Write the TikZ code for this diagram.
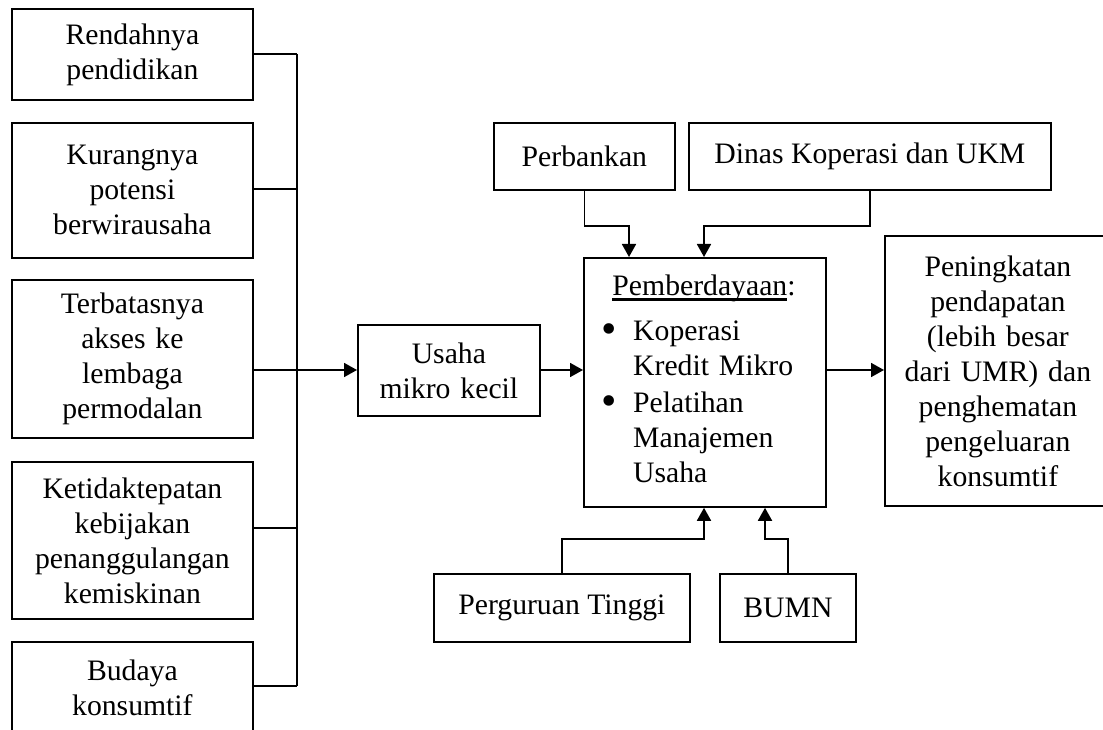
\documentclass[tikz,border=0pt]{standalone}
\usepackage{fontspec}
\setmainfont{Liberation Serif}
\usetikzlibrary{arrows.meta}
\newcommand\myul[1]{\setbox0\hbox{#1}\rlap{\rule[-5.6pt]{\wd0}{2.2pt}}\box0}
\begin{document}
\begin{tikzpicture}[x=1pt,y=-1pt,
  every node/.style={font=\fontsize{29.7}{35}\selectfont, inner sep=0pt},
  box/.style={draw, line width=1.8pt, anchor=north west, align=center},
  conn/.style={line width=1.8pt},
  arr/.style={line width=1.8pt, -{Triangle[length=13pt,width=14pt]}},
  txt/.style={align=left, anchor=base west, text width=#1},
  bul/.style={font=\fontsize{44}{44}\selectfont, anchor=base},
]
\useasboundingbox (0,0) rectangle (1103,730);
\clip (0,0) rectangle (1103,730);
% left column
\node[box, minimum width=241pt, minimum height=91pt, text width=235pt] (b1) at (11,8) {Rendahnya\\pendidikan};
\node[box, minimum width=241pt, minimum height=135pt, text width=235pt] (b2) at (11,122) {Kurangnya\\potensi\\berwirausaha};
\node[box, minimum width=241pt, minimum height=158pt, text width=235pt] (b3) at (11,279) {Terbatasnya\\akses ke\\lembaga\\permodalan};
\node[box, minimum width=241pt, minimum height=157pt, text width=235pt] (b4) at (11,461) {Ketidaktepatan\\kebijakan\\penanggulangan\\kemiskinan};
\node[box, minimum width=241pt, minimum height=92pt, text width=235pt] (b5) at (11,641) {Budaya\\konsumtif};
% middle
\node[box, minimum width=182pt, minimum height=91pt, text width=176pt] (usaha) at (357,324) {Usaha\\mikro kecil};
\node[box, minimum width=242pt, minimum height=249pt] (pemb) at (583,257) {};
\node[anchor=base] (ptitle) at (704,295) {\myul{Pemberdayaan}:};
\node[bul] (bul1) at (609,343) {\textbullet};
\node[txt=190pt] (it1) at (633,340) {Koperasi\\Kredit Mikro};
\node[bul] (bul2) at (609,415) {\textbullet};
\node[txt=190pt] (it2) at (633,412) {Pelatihan\\Manajemen\\Usaha};
% top
\node[box, minimum width=181pt, minimum height=67pt] (perb) at (493,122) {Perbankan};
\node[box, minimum width=362pt, minimum height=67pt] (dinas) at (688,122) {Dinas Koperasi dan UKM};
% bottom
\node[box, minimum width=256pt, minimum height=68pt] (pt) at (433,573) {Perguruan Tinggi};
\node[box, minimum width=136pt, minimum height=68pt] (bumn) at (719,573) {BUMN};
% output
\node[box, minimum width=226pt, minimum height=270pt, text width=220pt] (out) at (884,235) {Peningkatan\\pendapatan\\(lebih besar\\dari UMR) dan\\penghematan\\pengeluaran\\konsumtif};
% connectors left
\coordinate (jt) at (297,54);
\coordinate (j2) at (297,189);
\coordinate (j3) at (297,370);
\coordinate (j4) at (297,528);
\coordinate (jb) at (297,686);
\draw[conn] (jt) -- (jb);
\draw[conn] (b1.east |- jt) -- (jt);
\draw[conn] (b2.east |- j2) -- (j2);
\draw[conn] (b3.east |- j3) -- (j3);
\draw[conn] (b4.east |- j4) -- (j4);
\draw[conn] (b5.east |- jb) -- (jb);
\draw[arr] (j3) -- (usaha.west |- j3);
\draw[arr] (usaha.east |- j3) -- (pemb.west |- j3);
\draw[arr] (pemb.east |- j3) -- (out.west |- j3);
% top connectors
\coordinate (pa) at (629,226);
\coordinate (da) at (704,226);
\draw[arr] (perb.south) |- (pa) -- (pa |- pemb.north);
\draw[arr] (dinas.south) |- (da) -- (da |- pemb.north);
% bottom connectors
\coordinate (pta) at (704,539);
\coordinate (ba) at (765,539);
\draw[arr] (pt.north) |- (pta) -- (pta |- pemb.south);
\draw[arr] (bumn.north) |- (ba) -- (ba |- pemb.south);
\end{tikzpicture}
\end{document}
